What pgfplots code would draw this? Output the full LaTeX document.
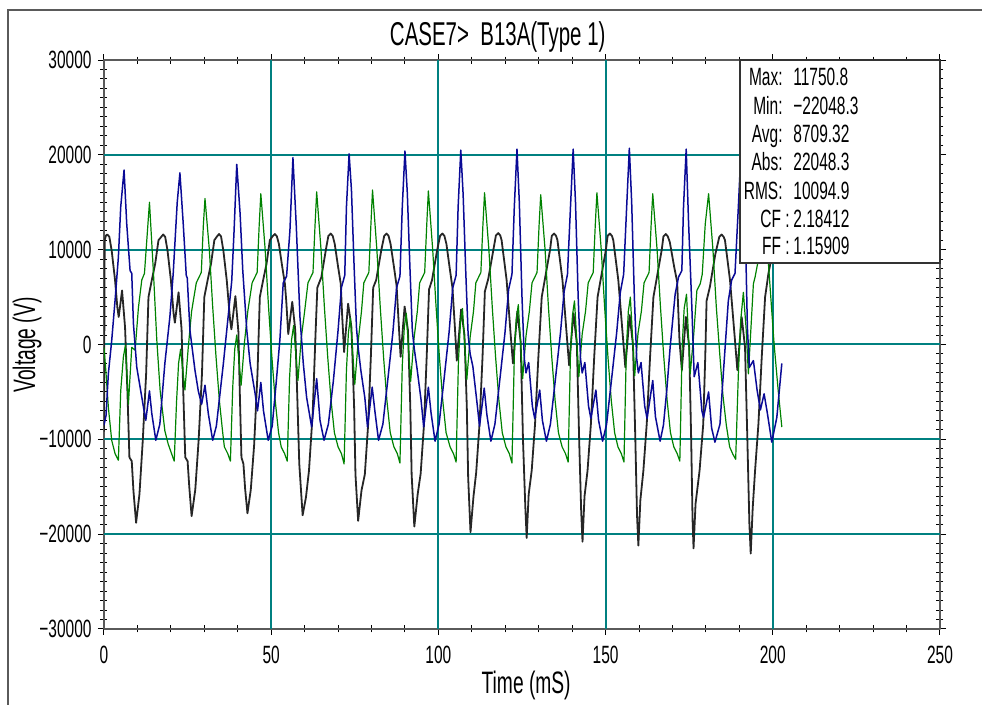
\documentclass[border=0pt]{standalone}
\usepackage{fontspec}
\setmainfont{Liberation Sans}[FakeStretch=0.62]
\usepackage{pgfplots}
\pgfplotsset{compat=1.18}
\definecolor{gridteal}{RGB}{0,128,128}
\definecolor{trblue}{RGB}{10,10,150}
\definecolor{trgreen}{RGB}{0,130,0}
\definecolor{axgray}{RGB}{90,90,90}
\newcommand{\lblfont}{\fontsize{12.5}{14}\selectfont}

\begin{document}
\begin{tikzpicture}
% page = 982 x 705 px, 1 px = 0.5pt, axis origin at px (104,629)
\path[use as bounding box] (-52pt,314.5pt) rectangle (439pt,-38pt);

\begin{axis}[
  at={(0pt,0pt)}, anchor=south west,
  scale only axis, width=418pt, height=284.5pt,
  xmin=0, xmax=250, ymin=-30000, ymax=30000,
  xtick={0,50,100,150,200,250},
  xticklabels={0,50,100,150,200,250},
  ytick={-30000,-20000,-10000,0,10000,20000,30000},
  yticklabels={−30000,−20000,−10000,0,10000,20000,30000},
  scaled ticks=false,
  minor x tick num=4, minor y tick num=9,
  xtick pos=both, ytick pos=both,
  tick align=center, major tick length=6pt, minor tick length=3.5pt,
  tick style={black, line width=0.5pt},
  axis line style={axgray, line width=1pt},
  xticklabel style={anchor=north, inner sep=0pt, yshift=-5.5pt, font=\lblfont},
  yticklabel style={anchor=east, inner sep=0pt, xshift=-3pt, font=\lblfont},
  title={CASE7>\ \ B13A(Type 1)},
  title style={at={(axis description cs:0.471,1.044)}, anchor=center, yshift=-7pt,
    inner sep=0pt, font=\fontsize{16.5}{18}\selectfont},
  xlabel={Time (mS)},
  xlabel style={at={(axis description cs:0.505,-0.100)}, anchor=center, inner sep=0pt,
    font=\fontsize{15.5}{17}\selectfont},
  ylabel={Voltage (V)},
  ylabel style={at={(axis description cs:-0.092,0.499)}, anchor=center, inner sep=0pt,
    font=\fontsize{15.5}{17}\selectfont},
  line join=round,
]
% grid lines
\draw[gridteal, line width=1pt]
  (axis cs:50,-30000) -- (axis cs:50,30000)
  (axis cs:100,-30000) -- (axis cs:100,30000)
  (axis cs:150,-30000) -- (axis cs:150,30000)
  (axis cs:200,-30000) -- (axis cs:200,30000)
  (axis cs:0,-20000) -- (axis cs:250,-20000)
  (axis cs:0,-10000) -- (axis cs:250,-10000)
  (axis cs:0,0) -- (axis cs:250,0)
  (axis cs:0,10000) -- (axis cs:250,10000)
  (axis cs:0,20000) -- (axis cs:250,20000);
% black trace
\addplot[black!85, line width=0.9pt] coordinates {
(0.0,-9200) (0.2,11000) (0.6,11500)
(1.0,11600) (1.6,11350) (2.3,9900) (3.3,6800) (4.0,3900) (4.4,2900) (5.4,5700) (6.3,1800) (7.0,-4900) (7.6,-11900) (8.3,-12300) (8.8,-15400) (9.6,-18800) (10.6,-15800) (11.6,-10100) (12.6,-3100) (13.3,5000) (14.3,6800) (15.3,8500) (16.3,11000)
(17.0,11300) (17.7,11600) (18.3,11350) (19.0,9900) (20.0,6800) (20.8,3300) (21.2,2300) (22.3,5500) (23.2,1600) (23.7,-4900) (24.3,-11900) (25.0,-12300) (25.5,-15000) (26.2,-18100) (27.3,-15300) (28.3,-10100) (29.3,-3100) (30.0,5000) (31.0,6800) (32.0,8500) (33.0,11000)
(33.7,11350) (34.4,11650) (35.0,11400) (35.7,9900) (36.7,6800) (37.7,2600) (38.1,1600) (39.3,5100) (40.2,1300) (40.6,-4900) (41.1,-11900) (41.7,-12600) (42.2,-15200) (42.9,-17800) (43.9,-15300) (44.9,-10600) (45.9,-3100) (46.6,5000) (47.6,6800) (48.6,8500) (49.6,11000)
(50.4,11400) (51.1,11650) (51.7,11400) (52.3,10600) (53.3,8200) (54.1,6400) (54.5,4600) (55.1,1100) (56.3,4500) (57.2,1500) (57.8,-5500) (58.4,-12600) (59.4,-18000) (60.4,-16100) (61.3,-13300) (62.4,-7300) (63.3,1500) (63.8,6000) (65.0,7100) (66.5,10300)
(67.1,11450) (67.8,11700) (68.4,11450) (69.0,10600) (70.0,8200) (70.8,6400) (71.2,3200) (71.8,-800) (73.0,4300) (74.0,1800) (74.8,-6600) (75.2,-13700) (76.0,-18600) (77.0,-15400) (78.0,-13700) (79.0,-8400) (79.8,-1300) (80.5,6000) (81.4,6800) (82.9,9900)
(83.8,11450) (84.5,11700) (85.1,11450) (85.7,10600) (86.7,8200) (87.5,6200) (88.1,2400) (88.7,-1300) (89.9,4000) (90.9,1500) (91.6,-6600) (92.0,-13700) (92.8,-19200) (93.8,-15800) (94.7,-13600) (95.7,-8400) (96.5,-1300) (97.2,5800) (98.1,6800) (99.6,9900)
(100.5,11450) (101.2,11700) (101.8,11450) (102.4,10600) (103.4,8000) (104.2,6000) (104.9,2000) (105.5,-1700) (106.8,3700) (107.8,1000) (108.5,-6600) (108.9,-14000) (109.6,-19800) (110.5,-16000) (111.3,-13500) (112.3,-8400) (113.2,-1300) (113.9,5600) (114.9,6900) (116.4,9900)
(117.2,11500) (117.9,11750) (118.5,11500) (118.9,11000) (120.4,6800) (121.6,1100) (122.3,-2000) (123.6,3500) (124.6,300) (125.3,-10100) (126.0,-17200) (126.4,-20400) (127.0,-15800) (127.9,-13300) (128.9,-8400) (129.9,-1300) (130.9,5000) (131.9,7000) (133.4,10000)
(133.9,11450) (134.6,11700) (135.2,11450) (135.6,11000) (137.1,6800) (138.4,900) (139.1,-2200) (140.4,3300) (141.4,100) (142.1,-10100) (142.7,-17600) (143.1,-20800) (143.7,-16000) (144.6,-13300) (145.6,-8400) (146.6,-1300) (147.6,5000) (148.6,7000) (150.1,10000)
(150.6,11450) (151.3,11700) (151.9,11450) (152.3,11000) (153.8,6800) (155.2,700) (155.9,-2400) (157.2,3100) (158.2,-100) (158.9,-10100) (159.4,-18000) (159.8,-21200) (160.4,-16400) (161.3,-13300) (162.3,-8400) (163.3,-1300) (164.3,5000) (165.3,7000) (166.8,10000)
(167.3,11400) (168.0,11650) (168.6,11400) (169.2,10800) (170.5,8200) (171.4,6600) (172.1,400) (172.8,-2700) (174.0,2900) (175.0,-300) (175.6,-10100) (176.0,-18400) (176.3,-21500) (176.9,-16800) (178.1,-13300) (179.2,-8400) (179.8,-1300) (180.2,4600) (181.2,6100) (182.8,9500)
(184.0,11350) (184.7,11600) (185.3,11350) (185.7,11000) (187.2,6800) (188.7,400) (189.4,-2700) (190.7,2900) (191.7,-300) (192.4,-10100) (193.0,-18900) (193.4,-22050) (194.0,-17200) (194.7,-13300) (195.7,-8400) (196.7,-1300) (197.7,5000) (198.7,7500) (200.2,10200) (201.4,11500) (202.7,11000)
};
% green trace
\addplot[trgreen, line width=0.6pt] coordinates {
(0.0,-300) (0.6,-3000) (1.3,-6600) (2.3,-10100) (3.3,-11500) (4.3,-12200) (5.0,-4900) (5.8,-1300) (6.4,-100) (7.3,-6300) (8.3,-300) (9.3,-600) (10.3,3900) (11.3,6800) (12.1,7500) (12.8,11000) (13.6,15000)
(14.8,7500) (15.8,400) (16.8,-4900) (18.2,-9100) (19.2,-10500) (20.2,-11500) (21.0,-12300) (21.7,-6000) (22.3,-2000) (22.9,-500) (24.2,-4800) (25.2,-300) (26.2,3500) (27.6,6500) (29.1,7600) (29.7,12500) (30.2,15400)
(31.5,10000) (32.5,4000) (33.5,-1300) (34.5,-5900) (35.5,-9300) (36.0,-10800) (37.0,-11500) (37.8,-12300) (38.5,-4500) (39.1,-500) (39.7,1000) (41.0,-4300) (42.0,200) (43.0,3500) (44.3,6500) (45.8,7600) (46.4,12500) (46.9,15900)
(48.2,10000) (49.2,4000) (50.2,-1300) (51.2,-5900) (52.2,-9300) (53.0,-10800) (54.0,-11500) (54.8,-12300) (55.5,-3500) (56.1,500) (56.7,2000) (58.0,-3800) (59.0,700) (60.0,3500) (61.0,6500) (62.5,7600) (63.1,12500) (63.6,16100)
(64.9,10000) (65.9,4000) (66.9,-1300) (67.9,-5900) (68.9,-9300) (70.0,-10800) (71.0,-11500) (71.8,-12600) (72.5,-2700) (73.1,1300) (73.7,2800) (75.0,-4200) (76.0,300) (77.0,3500) (77.7,6500) (79.2,7600) (79.8,12500) (80.3,16300)
(81.6,10000) (82.6,4000) (83.6,-1300) (84.6,-5900) (85.6,-9300) (86.7,-10800) (87.7,-11500) (88.5,-12500) (89.2,-2200) (89.8,1800) (90.4,3300) (91.7,-3900) (92.7,600) (93.7,3500) (94.4,6500) (95.9,7600) (96.5,12500) (97.0,16200)
(98.3,10000) (99.3,4000) (100.3,-1300) (101.3,-5900) (102.3,-9300) (103.5,-10800) (104.5,-11500) (105.3,-12400) (106.0,-1700) (106.6,2300) (107.2,3800) (108.5,-3700) (109.5,800) (110.5,3500) (111.2,6500) (112.7,7600) (113.3,12500) (113.8,16000)
(115.1,10000) (116.1,4000) (117.1,-1300) (118.1,-5900) (119.1,-9300) (120.2,-10800) (121.2,-11500) (122.0,-12500) (122.7,-1300) (123.3,2700) (123.9,4200) (125.2,-3600) (126.2,900) (127.2,3500) (128.0,6500) (129.5,7600) (130.1,12500) (130.6,15800)
(131.9,10000) (132.9,4000) (133.9,-1300) (134.9,-5900) (135.9,-9300) (137.0,-10800) (138.0,-11500) (138.8,-12400) (139.5,-900) (140.1,3100) (140.7,4600) (142.0,-3400) (143.0,1100) (144.0,3500) (144.8,6500) (146.3,7600) (146.9,12500) (147.4,16000)
(148.7,10000) (149.7,4000) (150.7,-1300) (151.7,-5900) (152.7,-9300) (153.7,-10800) (154.7,-11500) (155.5,-12400) (156.2,-500) (156.8,3500) (157.4,5000) (158.7,-3300) (159.7,1200) (160.7,3500) (161.5,6500) (163.0,7600) (163.6,12500) (164.1,15900)
(165.4,10000) (166.4,4000) (167.4,-1300) (168.4,-5900) (169.4,-9300) (170.4,-10800) (171.4,-11500) (172.2,-12300) (172.9,-200) (173.5,3800) (174.2,5300) (175.3,-3100) (176.3,800) (177.3,5700) (178.3,6400) (178.9,7400) (179.8,12700) (180.8,15900)
(182.1,10000) (183.1,4000) (184.2,-1300) (185.1,-5400) (186.1,-8500) (187.1,-10800) (188.1,-11600) (188.9,-12100) (189.7,-3100) (190.4,2500) (191.2,5500) (192.0,1800) (192.7,-3100) (193.7,3200) (194.2,6400) (194.7,7100) (195.6,8800) (196.6,12500) (197.4,15800) (198.2,12000) (198.7,8500) (200.4,0) (201.6,-4800) (202.7,-8700)
};
% blue trace
\addplot[trblue, line width=0.75pt] coordinates {
(0.0,-8500) (0.6,-7500) (1.3,-3100) (2.3,400) (3.3,4600) (4.3,9200) (5.0,14500) (6.0,18400) (6.8,12700) (7.8,7800) (8.3,7500) (8.8,2200) (9.8,-2400) (10.8,-4500) (11.8,-6600) (12.5,-8000) (13.6,-4900) (14.3,-7300) (15.5,-10100)
(16.7,-8400) (18.2,-2000) (19.7,2900) (20.7,7500) (21.9,15000) (22.7,18100) (23.7,12700) (24.6,7300) (24.9,7000) (25.7,1500) (27.2,-2700) (28.2,-4900) (29.2,-6300) (30.2,-4300) (31.2,-7300) (32.5,-10100)
(33.6,-8600) (35.7,-2000) (37.2,3200) (38.2,6700) (38.9,12000) (39.7,19000) (40.7,13800) (41.5,7800) (42.7,1500) (43.7,-2000) (45.2,-5200) (45.9,-7000) (46.9,-4000) (47.7,-7000) (49.1,-10100)
(50.3,-8600) (51.5,-4000) (52.6,500) (53.6,6500) (54.6,7200) (55.6,12000) (56.5,19700) (57.5,12500) (58.6,2900) (59.6,-2000) (60.6,-5600) (62.1,-8700) (63.6,-3600) (64.6,-8000) (65.8,-10100)
(67.1,-8400) (68.6,-3800) (70.0,1500) (71.0,6000) (72.0,7300) (72.5,14500) (73.3,20100) (74.0,16300) (74.8,8200) (75.5,1800) (76.0,-300) (76.8,-2700) (78.0,-5600) (78.8,-8700) (80.2,-4500) (81.0,-7000) (82.1,-10100)
(83.4,-8400) (85.0,-3300) (86.4,1300) (87.5,6000) (88.5,7200) (89.2,14500) (90.0,20400) (90.7,16000) (91.5,8000) (92.2,1500) (92.8,-500) (93.6,-2500) (94.8,-5800) (95.6,-8700) (97.0,-4500) (97.8,-7200) (99.0,-10200)
(100.2,-8400) (101.8,-3300) (103.2,1300) (104.3,6000) (105.3,7300) (105.9,14500) (106.7,20500) (107.4,15800) (108.2,7500) (108.9,1000) (109.5,-1000) (110.3,-2300) (111.5,-6000) (112.3,-8600) (113.7,-4600) (114.5,-7400) (115.7,-10200)
(116.9,-8400) (118.5,-3300) (119.9,1200) (121.0,5800) (122.0,7400) (122.7,14500) (123.5,20600) (124.2,15000) (125.0,5000) (125.7,-1500) (126.2,-3000) (127.0,-1900) (128.1,-6500) (128.8,-7800) (130.3,-4800) (131.1,-8000) (132.3,-10200)
(133.5,-8400) (135.1,-3300) (136.5,1200) (137.6,5600) (138.6,7400) (139.5,14500) (140.3,20600) (141.0,15000) (141.8,5000) (142.5,-1500) (143.0,-3000) (143.8,-1900) (144.9,-6500) (145.6,-7800) (147.1,-4800) (147.9,-8000) (149.1,-10200)
(150.3,-8400) (151.9,-3300) (153.3,1200) (154.4,5500) (155.4,7400) (156.3,14500) (157.1,20700) (157.8,15000) (158.6,5000) (159.3,-1500) (159.8,-3000) (160.6,-1900) (161.7,-6500) (162.4,-7800) (164.1,-3800) (164.9,-7600) (166.3,-10200)
(167.3,-8500) (168.3,-4800) (169.3,-300) (170.8,5300) (171.8,7100) (172.8,7800) (173.3,14500) (174.1,20600) (174.8,13000) (175.8,3900) (176.5,-3400) (177.6,-1900) (178.8,-7000) (179.3,-7700) (180.8,-5000) (181.7,-8800) (182.7,-10300)
(184.2,-8400) (185.2,-3100) (186.7,4600) (187.7,6800) (188.7,7500) (189.7,14500) (190.5,20500) (191.3,14000) (192.0,8600) (192.4,1800) (193.0,-2400) (194.2,-1700) (195.3,-4800) (196.3,-6900) (197.4,-5200) (198.4,-7300) (199.7,-10300) (201.2,-7700) (202.7,-2000)
};
\end{axis}

% frame, statistics box (pixel coordinates)
\begin{scope}[shift={(-52pt,314.5pt)}, x=0.5pt, y=-0.5pt, font=\lblfont]
  \draw[axgray, line width=0.6pt] (8,705) -- (8,10) -- (982,10);
  \draw[black!80, line width=0.6pt, fill=white] (740,60) rectangle (940,263);
  \node[anchor=base east, inner sep=0pt] at (783,86) {Max:};
  \node[anchor=base west, inner sep=0pt] at (793,86) {11750.8};
  \node[anchor=base east, inner sep=0pt] at (783,115) {Min:};
  \node[anchor=base west, inner sep=0pt] at (793,115) {−22048.3};
  \node[anchor=base east, inner sep=0pt] at (783,143) {Avg:};
  \node[anchor=base west, inner sep=0pt] at (793,143) {8709.32};
  \node[anchor=base east, inner sep=0pt] at (783,171) {Abs:};
  \node[anchor=base west, inner sep=0pt] at (793,171) {22048.3};
  \node[anchor=base east, inner sep=0pt] at (783,200) {RMS:};
  \node[anchor=base west, inner sep=0pt] at (793,200) {10094.9};
  \node[anchor=base east, inner sep=0pt] at (790,228) {CF :};
  \node[anchor=base west, inner sep=0pt] at (793,228) {2.18412};
  \node[anchor=base east, inner sep=0pt] at (790,255) {FF :};
  \node[anchor=base west, inner sep=0pt] at (793,255) {1.15909};
\end{scope}
\end{tikzpicture}
\end{document}
